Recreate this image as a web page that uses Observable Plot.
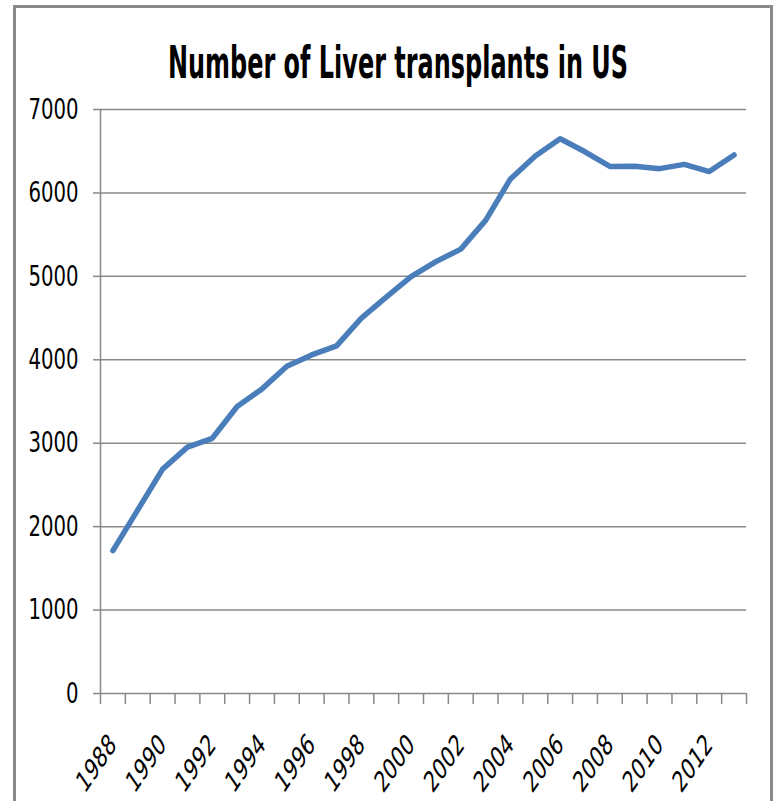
<!DOCTYPE html>
<html>
<head>
<meta charset="utf-8">
<script src="https://cdn.jsdelivr.net/npm/d3@7"></script>
<script src="https://cdn.jsdelivr.net/npm/@observablehq/plot@0.6"></script>
<style>
  html, body { margin:0; padding:0; background:#fff; overflow:hidden; width:775px; height:801px; }
  #frame { position:absolute; left:13px; top:5px; width:760px; height:820px; border:3px solid #8a8a8a; box-sizing:border-box; }
  #chart { position:absolute; left:0; top:0; }
  #title { position:absolute; left:398px; top:37px; white-space:nowrap;
           font-family:"DejaVu Sans Condensed","Liberation Sans",sans-serif;
           font-weight:bold; font-size:35px; line-height:40px; color:#000; }
</style>
</head>
<body>
<div id="frame"></div>
<div id="chart"></div>
<div id="title">Number of Liver transplants in US</div>
<script>
const years = [1988,1989,1990,1991,1992,1993,1994,1995,1996,1997,1998,1999,2000,2001,2002,2003,2004,2005,2006,2007,2008,2009,2010,2011,2012,2013];
const transplants = [1713,2201,2690,2953,3059,3440,3651,3922,4058,4167,4500,4751,4996,5177,5326,5671,6168,6443,6650,6493,6318,6320,6291,6342,6256,6455];
const yTicks = [0,1000,2000,3000,4000,5000,6000,7000];
const xLabelYears = [1988,1990,1992,1994,1996,1998,2000,2002,2004,2006,2008,2010,2012];

const data = years.map((y, i) => ({year: y, value: transplants[i]}));
const boundaries = years.map(y => y - 0.5).concat([years[years.length - 1] + 0.5]);

const font = '"DejaVu Sans Condensed","Liberation Sans",sans-serif';
const axisColor = "#898989";

const chart = Plot.plot({
  width: 775,
  height: 801,
  marginLeft: 100,
  marginRight: 29,
  marginTop: 109,
  marginBottom: 108,
  style: {fontFamily: font, fontSize: "27px", color: "#000", background: "transparent", overflow: "visible"},
  x: {domain: [years[0] - 0.5, years[years.length - 1] + 0.5], label: null},
  y: {domain: [0, 7000], label: null},
  marks: [
    Plot.gridY(yTicks, {stroke: axisColor, strokeOpacity: 1, strokeWidth: 1.5}),
    Plot.axisY(yTicks, {tickSize: 7, tickPadding: 15, stroke: axisColor, strokeWidth: 1.5, tickFormat: d3.format("d"), label: null}),
    Plot.ruleX([years[0] - 0.5], {stroke: axisColor, strokeWidth: 1.5}),
    Plot.axisX(boundaries, {tickSize: 11, stroke: axisColor, strokeWidth: 1.5, tickFormat: () => "", label: null}),
    Plot.axisX(xLabelYears, {tickSize: 0, tickPadding: 46, tickRotate: -45, textAnchor: "end", tickFormat: d3.format("d"), label: null}),
    Plot.line(data, {x: "year", y: "value", stroke: "#4a7ebb", strokeWidth: 5.5, strokeLinejoin: "round", strokeLinecap: "round"})
  ]
});
document.getElementById("chart").appendChild(chart);

// Stretch tick labels like the original (tall, narrow glyphs): keep each label's anchor, scale the glyphs.
const SVGNS = "http://www.w3.org/2000/svg";
function rescale(t, sx, sy, rot) {
  const list = t.transform.baseVal;
  const m = list.numberOfItems ? list.consolidate().matrix : {e: 0, f: 0};
  const g = document.createElementNS(SVGNS, "g");
  g.setAttribute("transform", `translate(${m.e},${m.f})`);
  t.parentNode.insertBefore(g, t);
  g.appendChild(t);
  t.setAttribute("transform", `scale(${sx},${sy})${rot ? ` rotate(${rot})` : ""}`);
}
chart.querySelectorAll('g[aria-label="y-axis tick label"] text').forEach(t => rescale(t, 0.81, 1.07, 0));
chart.querySelectorAll('g[aria-label="x-axis tick label"] text').forEach(t => rescale(t, 0.75, 1.1, -45));

// title: fit to reference width, stretched vertically like the original
const title = document.getElementById("title");
const w = title.getBoundingClientRect().width;
const sx = 460 / w;
title.style.transformOrigin = "0 0";
title.style.transform = `translateX(${-w * sx / 2}px) scale(${sx}, 1.28)`;
</script>
</body>
</html>
